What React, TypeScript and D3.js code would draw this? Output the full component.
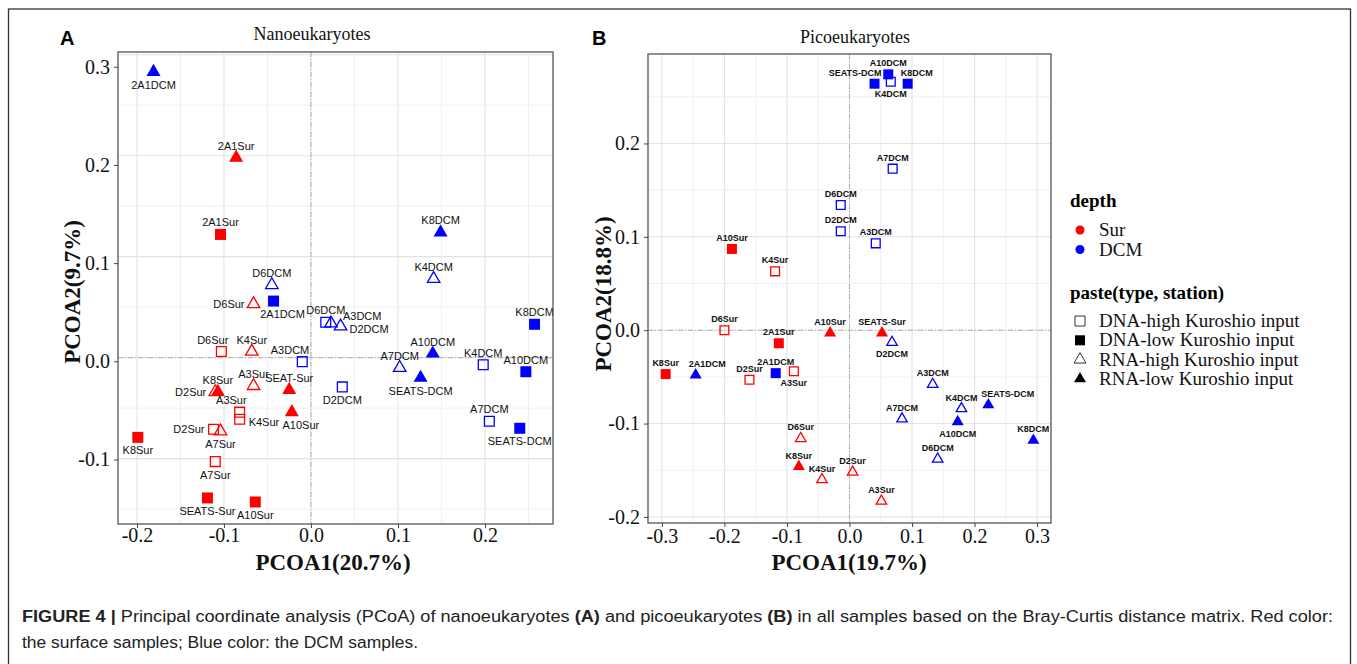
'use client';

import { useRef, useEffect } from 'react';
import * as d3 from 'd3';

const W = 1357;
const H = 664;
const SERIF = "'Liberation Serif', 'Times New Roman', serif";
const SANS = "'Liberation Sans', Arial, Helvetica, sans-serif";
const NARROW = "'Liberation Sans Narrow', 'Arial Narrow', 'Liberation Sans', Arial, sans-serif";

// legend levels
const depthLevels = ['Sur', 'DCM'];
const depthColours = ['#ff0000', '#0000ff'];
const groupLevels = ['DNA-high', 'DNA-low', 'RNA-high', 'RNA-low'];

// ---- panel A: nanoeukaryotes ----
const labelsA = [
  '2A1DCM', '2A1Sur', '2A1Sur', 'D6DCM', '2A1DCM', 'D6Sur', 'D6Sur', 'K4Sur', 'A3DCM',
  'K8Sur', 'D2Sur', 'A3Sur', 'SEAT-Sur', 'A3Sur', 'K4Sur', 'A10Sur', 'D2Sur', 'A7Sur',
  'K8Sur', 'A7Sur', 'SEATS-Sur', 'A10Sur', 'K8DCM', 'K4DCM', 'D6DCM', 'A3DCM', 'D2DCM',
  'A10DCM', 'A7DCM', 'SEATS-DCM', 'D2DCM', 'K4DCM', 'K8DCM', 'A10DCM', 'A7DCM', 'SEATS-DCM',
];
const depthA = [
  'DCM', 'Sur', 'Sur', 'DCM', 'DCM', 'Sur', 'Sur', 'Sur', 'DCM',
  'Sur', 'Sur', 'Sur', 'Sur', 'Sur', 'Sur', 'Sur', 'Sur', 'Sur',
  'Sur', 'Sur', 'Sur', 'Sur', 'DCM', 'DCM', 'DCM', 'DCM', 'DCM',
  'DCM', 'DCM', 'DCM', 'DCM', 'DCM', 'DCM', 'DCM', 'DCM', 'DCM',
];
const groupA = [
  'RNA-low', 'RNA-low', 'DNA-low', 'RNA-high', 'DNA-low', 'RNA-high', 'DNA-high', 'RNA-high', 'DNA-high',
  'RNA-low', 'RNA-high', 'RNA-high', 'RNA-low', 'DNA-high', 'DNA-high', 'RNA-low', 'DNA-high', 'RNA-high',
  'DNA-low', 'DNA-high', 'DNA-low', 'DNA-low', 'RNA-low', 'RNA-high', 'DNA-high', 'RNA-high', 'RNA-high',
  'RNA-low', 'RNA-high', 'RNA-low', 'DNA-high', 'DNA-high', 'DNA-low', 'DNA-low', 'DNA-high', 'DNA-low',
];
const pc1A = [
  -0.181, -0.086, -0.104, -0.045, -0.043, -0.066, -0.103, -0.068, -0.010,
  -0.107, -0.110, -0.066, -0.025, -0.082, -0.082, -0.022, -0.112, -0.104,
  -0.199, -0.110, -0.119, -0.064, 0.149, 0.141, 0.017, 0.023, 0.034,
  0.140, 0.102, 0.126, 0.036, 0.198, 0.257, 0.247, 0.205, 0.240,
];
const pc2A = [
  0.283, 0.198, 0.122, 0.072, 0.056, 0.053, 0.006, 0.006, -0.004,
  -0.034, -0.034, -0.028, -0.032, -0.054, -0.061, -0.054, -0.071, -0.073,
  -0.079, -0.103, -0.139, -0.143, 0.124, 0.078, 0.035, 0.034, 0.031,
  0.004, -0.010, -0.020, -0.029, -0.007, 0.033, -0.014, -0.063, -0.070,
];
const sideA = [
  'b', 't', 't', 't', 'br', 'l', 'tl', 't', 'tl',
  't', 'l', 't', 't', 'tl', 'r', 'br', 'l', 'b',
  'b', 'b', 'b', 'b', 't', 't', 't', 'ru', 'r',
  't', 't', 'b', 'b', 't', 't', 't', 't', 'b',
];
const xTicksA = [-0.2, -0.1, 0.0, 0.1, 0.2];
const yTicksA = [-0.1, 0.0, 0.1, 0.2, 0.3];

// ---- panel B: picoeukaryotes ----
const labelsB = [
  'SEATS-DCM', 'A10DCM', 'K4DCM', 'K8DCM', 'A7DCM', 'D6DCM', 'D2DCM', 'A3DCM',
  'A10Sur', 'K4Sur', 'D6Sur', '2A1Sur', 'A10Sur', 'SEATS-Sur', 'D2DCM', 'K8Sur',
  '2A1DCM', 'D2Sur', '2A1DCM', 'A3Sur', 'A3DCM', 'A7DCM', 'D6Sur', 'K8Sur',
  'K4Sur', 'D2Sur', 'A3Sur', 'K4DCM', 'A10DCM', 'SEATS-DCM', 'D6DCM', 'K8DCM',
];
const depthB = [
  'DCM', 'DCM', 'DCM', 'DCM', 'DCM', 'DCM', 'DCM', 'DCM',
  'Sur', 'Sur', 'Sur', 'Sur', 'Sur', 'Sur', 'DCM', 'Sur',
  'DCM', 'Sur', 'DCM', 'Sur', 'DCM', 'DCM', 'Sur', 'Sur',
  'Sur', 'Sur', 'Sur', 'DCM', 'DCM', 'DCM', 'DCM', 'DCM',
];
const groupB = [
  'DNA-low', 'DNA-low', 'DNA-high', 'DNA-low', 'DNA-high', 'DNA-high', 'DNA-high', 'DNA-high',
  'DNA-low', 'DNA-high', 'DNA-high', 'DNA-low', 'RNA-low', 'RNA-low', 'RNA-high', 'DNA-low',
  'RNA-low', 'DNA-high', 'DNA-low', 'DNA-high', 'RNA-high', 'RNA-high', 'RNA-high', 'RNA-low',
  'RNA-high', 'RNA-high', 'RNA-high', 'RNA-high', 'RNA-low', 'RNA-low', 'RNA-high', 'RNA-low',
];
const pc1B = [
  0.040, 0.062, 0.066, 0.093, 0.069, -0.014, -0.014, 0.042,
  -0.188, -0.119, -0.200, -0.113, -0.031, 0.052, 0.068, -0.294,
  -0.246, -0.160, -0.118, -0.089, 0.133, 0.084, -0.078, -0.081,
  -0.044, 0.005, 0.051, 0.179, 0.173, 0.222, 0.141, 0.294,
];
const pc2B = [
  0.264, 0.274, 0.266, 0.264, 0.173, 0.134, 0.106, 0.093,
  0.087, 0.063, 0.000, -0.014, -0.003, -0.003, -0.013, -0.047,
  -0.048, -0.053, -0.046, -0.044, -0.058, -0.095, -0.116, -0.146,
  -0.160, -0.152, -0.183, -0.084, -0.098, -0.080, -0.138, -0.118,
];
const sideB = [
  'tl', 't', 'b', 'tr', 't', 't', 't', 't',
  't', 't', 't', 't', 't', 't', 'b', 't',
  'tr', 't', 't', 'b', 't', 't', 't', 't',
  't', 't', 't', 't', 'b', 'tr', 't', 't',
];
const xTicksB = [-0.3, -0.2, -0.1, 0.0, 0.1, 0.2, 0.3];
const yTicksB = [-0.2, -0.1, 0.0, 0.1, 0.2];

type Panel = {
  letter: string; title: string; xTitle: string; yTitle: string;
  left: number; right: number; top: number; bottom: number;
  xDomain: [number, number]; yDomain: [number, number];
  // the source figure's y tick labels sit slightly off the gridlines in panel A
  yTickRange?: [number, number];
  labels: string[]; depth: string[]; group: string[]; pc1: number[]; pc2: number[]; side: string[];
  xTicks: number[]; yTicks: number[];
  sq: number; tri: number; labelSize: number; labelWeight: string;
  letterX: number; titleX: number; titleY: number; xTitleX: number; yTitleX: number; yTitleY: number;
  xPad: number;
};

const panels: Panel[] = [
  {
    letter: 'A', title: 'Nanoeukaryotes', xTitle: 'PCOA1(20.7%)', yTitle: 'PCOA2(9.7%)',
    left: 118, right: 553, top: 52, bottom: 524,
    xDomain: [-0.2218, 0.2782], yDomain: [-0.1648, 0.3027], yTickRange: [459.5, 66.7],
    labels: labelsA, depth: depthA, group: groupA, pc1: pc1A, pc2: pc2A, side: sideA,
    xTicks: xTicksA, yTicks: yTicksA, sq: 11, tri: 14, labelSize: 11, labelWeight: 'normal',
    letterX: 60, titleX: 312, titleY: 40, xTitleX: 333, yTitleX: 80, yTitleY: 292, xPad: 0,
  },
  {
    letter: 'B', title: 'Picoeukaryotes', xTitle: 'PCOA1(19.7%)', yTitle: 'PCOA2(18.8%)',
    left: 648, right: 1051, top: 54, bottom: 523,
    xDomain: [-0.3222, 0.3222], yDomain: [-0.2065, 0.2958],
    labels: labelsB, depth: depthB, group: groupB, pc1: pc1B, pc2: pc2B, side: sideB,
    xTicks: xTicksB, yTicks: yTicksB, sq: 10, tri: 12, labelSize: 9, labelWeight: 'bold',
    letterX: 592, titleX: 855, titleY: 43, xTitleX: 849, yTitleX: 611, yTitleY: 294, xPad: 2,
  },
];

function labelPlace(side: string, x: number, y: number, fs: number): [number, number, string] {
  switch (side) {
    case 'b': return [x, y + 7 + fs * 0.9, 'middle'];
    case 'l': return [x - 9, y + fs * 0.35, 'end'];
    case 'r': return [x + 9, y + 7, 'start'];
    case 'ru': return [x + 12, y - 3, 'start'];
    case 'tl': return [x + 7, y - 8, 'end'];
    case 'tr': return [x - 7, y - 8, 'start'];
    case 'br': return [x + 9, y + 17, 'middle'];
    default: return [x, y - 8, 'middle'];
  }
}

function drawPanel(svg: d3.Selection<SVGSVGElement, unknown, null, undefined>, p: Panel) {
  const x = d3.scaleLinear().domain(p.xDomain).range([p.left, p.right]);
  const y = d3.scaleLinear().domain(p.yDomain).range([p.bottom, p.top]);
  const g = svg.append('g');

  // grid (minor every 0.05, major every 0.1)
  const xs = d3.range(Math.ceil(p.xDomain[0] * 20), Math.floor(p.xDomain[1] * 20) + 1);
  const ys = d3.range(Math.ceil(p.yDomain[0] * 20), Math.floor(p.yDomain[1] * 20) + 1);
  g.selectAll('.gx').data(xs).join('line')
    .attr('x1', k => x(k / 20)).attr('x2', k => x(k / 20))
    .attr('y1', p.top).attr('y2', p.bottom)
    .attr('stroke', k => (k % 2 === 0 ? '#e3e3e3' : '#eeeeee'))
    .attr('stroke-width', k => (k % 2 === 0 ? 1.1 : 0.8));
  g.selectAll('.gy').data(ys).join('line')
    .attr('y1', k => y(k / 20)).attr('y2', k => y(k / 20))
    .attr('x1', p.left).attr('x2', p.right)
    .attr('stroke', k => (k % 2 === 0 ? '#e3e3e3' : '#eeeeee'))
    .attr('stroke-width', k => (k % 2 === 0 ? 1.1 : 0.8));

  // zero reference lines
  g.append('line').attr('x1', x(0)).attr('x2', x(0)).attr('y1', p.top).attr('y2', p.bottom)
    .attr('stroke', '#a8a8a8').attr('stroke-width', 0.9).attr('stroke-dasharray', '5 2 1 2');
  g.append('line').attr('y1', y(0)).attr('y2', y(0)).attr('x1', p.left).attr('x2', p.right)
    .attr('stroke', '#a8a8a8').attr('stroke-width', 0.9).attr('stroke-dasharray', '5 2 1 2');

  // points
  const idx = d3.range(p.labels.length);
  const pts = g.selectAll('.pt').data(idx).join('path')
    .attr('transform', i => `translate(${x(p.pc1[i])},${y(p.pc2[i])})`)
    .attr('d', i => {
      const dna = p.group[i].startsWith('DNA');
      const filled = p.group[i].endsWith('low');
      const s = dna ? (filled ? p.sq : p.sq - 1.2) : (filled ? p.tri : p.tri - 1.5);
      const area = dna ? s * s : (Math.sqrt(3) / 4) * s * s;
      return d3.symbol().type(dna ? d3.symbolSquare : d3.symbolTriangle).size(area)() as string;
    });
  pts.each(function (i) {
    const c = depthColours[depthLevels.indexOf(p.depth[i])];
    const filled = p.group[i].endsWith('low');
    d3.select(this)
      .attr('fill', filled ? c : 'none')
      .attr('stroke', filled ? 'none' : c)
      .attr('stroke-width', 1.3);
  });

  // sample labels
  g.selectAll('.lb').data(idx).join('text')
    .each(function (i) {
      const [lx, ly, anchor] = labelPlace(p.side[i], x(p.pc1[i]), y(p.pc2[i]), p.labelSize);
      d3.select(this).attr('x', lx).attr('y', ly).attr('text-anchor', anchor);
    })
    .attr('font-family', SANS).attr('font-size', p.labelSize).attr('font-weight', p.labelWeight)
    .attr('fill', '#111')
    .text(i => p.labels[i]);

  // border
  g.append('rect').attr('x', p.left).attr('y', p.top)
    .attr('width', p.right - p.left).attr('height', p.bottom - p.top)
    .attr('fill', 'none').attr('stroke', '#555').attr('stroke-width', 1.3);

  // axes
  const fmt = (d: d3.NumberValue) => (+d).toFixed(1);
  const xAxis = g.append('g').attr('transform', `translate(0,${p.bottom})`)
    .call(d3.axisBottom(x).tickValues(p.xTicks).tickSize(4).tickPadding(p.xPad).tickFormat(fmt));
  const yScaleTicks = p.yTickRange
    ? d3.scaleLinear().domain([p.yTicks[0], p.yTicks[p.yTicks.length - 1]]).range(p.yTickRange)
    : y;
  const yAxis = g.append('g').attr('transform', `translate(${p.left},0)`)
    .call(d3.axisLeft(yScaleTicks).tickValues(p.yTicks).tickSize(4).tickPadding(4).tickFormat(fmt));
  [xAxis, yAxis].forEach(a => {
    a.select('.domain').remove();
    a.selectAll('line').attr('stroke', '#444');
    a.selectAll('text').attr('font-family', SERIF).attr('font-size', 20).attr('fill', '#111');
  });

  // titles
  svg.append('text').attr('x', p.letterX).attr('y', 45).attr('font-family', SANS)
    .attr('font-weight', 'bold').attr('font-size', 20).attr('fill', '#000').text(p.letter);
  svg.append('text').attr('x', p.titleX).attr('y', p.titleY).attr('text-anchor', 'middle')
    .attr('font-family', SERIF).attr('font-size', 18).attr('fill', '#111').text(p.title);
  svg.append('text').attr('x', p.xTitleX).attr('y', 570).attr('text-anchor', 'middle')
    .attr('font-family', SERIF).attr('font-weight', 'bold').attr('font-size', 23).attr('fill', '#111')
    .text(p.xTitle);
  svg.append('text').attr('transform', `translate(${p.yTitleX},${p.yTitleY}) rotate(-90)`)
    .attr('text-anchor', 'middle')
    .attr('font-family', SERIF).attr('font-weight', 'bold').attr('font-size', 23).attr('fill', '#111')
    .text(p.yTitle);
}

export default function App() {
  const svgRef = useRef<SVGSVGElement>(null);

  useEffect(() => {
    if (!svgRef.current) return;
    const svg = d3.select(svgRef.current);
    svg.selectAll('*').remove();

    svg.append('rect').attr('width', W).attr('height', H).attr('fill', '#fff');
    // outer figure frame
    svg.append('rect').attr('x', 8.5).attr('y', 9).attr('width', 1342).attr('height', 700)
      .attr('fill', 'none').attr('stroke', '#333').attr('stroke-width', 1.3);

    panels.forEach(p => drawPanel(svg, p));

    // legend
    const lg = svg.append('g');
    lg.append('text').attr('x', 1070).attr('y', 207).attr('font-family', SERIF)
      .attr('font-weight', 'bold').attr('font-size', 19).text('depth');
    depthLevels.forEach((d, i) => {
      lg.append('circle').attr('cx', 1080).attr('cy', 230 + i * 19.5).attr('r', 4.5)
        .attr('fill', depthColours[i]);
      lg.append('text').attr('x', 1099).attr('y', 236 + i * 19.5).attr('font-family', SERIF)
        .attr('font-size', 19).attr('fill', '#111').text(d);
    });
    lg.append('text').attr('x', 1070).attr('y', 299).attr('font-family', SERIF)
      .attr('font-weight', 'bold').attr('font-size', 19).text('paste(type, station)');
    groupLevels.forEach((gName, i) => {
      const dna = gName.startsWith('DNA');
      const filled = gName.endsWith('low');
      const cy = 321 + i * 19.3;
      const s = dna ? 10 : 12;
      const area = dna ? s * s : (Math.sqrt(3) / 4) * s * s;
      lg.append('path').attr('transform', `translate(1080,${cy})`)
        .attr('d', d3.symbol().type(dna ? d3.symbolSquare : d3.symbolTriangle).size(area)() as string)
        .attr('fill', filled ? '#000' : 'none').attr('stroke', filled ? 'none' : '#333')
        .attr('stroke-width', 1);
      lg.append('text').attr('x', 1099).attr('y', cy + 6).attr('font-family', SERIF)
        .attr('font-size', 19).attr('fill', '#111').text(`${gName} Kuroshio input`);
    });

    // caption
    const c1 = svg.append('text').attr('x', 22).attr('y', 622).attr('font-family', NARROW)
      .attr('font-size', 16).attr('fill', '#222')
      .attr('textLength', 1311).attr('lengthAdjust', 'spacingAndGlyphs');
    c1.append('tspan').attr('font-weight', 'bold').text('FIGURE 4 | ');
    c1.append('tspan').text('Principal coordinate analysis (PCoA) of nanoeukaryotes ');
    c1.append('tspan').attr('font-weight', 'bold').text('(A)');
    c1.append('tspan').text(' and picoeukaryotes ');
    c1.append('tspan').attr('font-weight', 'bold').text('(B)');
    c1.append('tspan').text(' in all samples based on the Bray-Curtis distance matrix. Red color:');
    svg.append('text').attr('x', 22).attr('y', 648).attr('font-family', NARROW)
      .attr('font-size', 16).attr('fill', '#222')
      .attr('textLength', 396).attr('lengthAdjust', 'spacingAndGlyphs')
      .text('the surface samples; Blue color: the DCM samples.');
  }, []);

  return (
    <svg
      ref={svgRef}
      width={W}
      height={H}
      style={{ position: 'absolute', left: 0, top: 0 }}
    />
  );
}
